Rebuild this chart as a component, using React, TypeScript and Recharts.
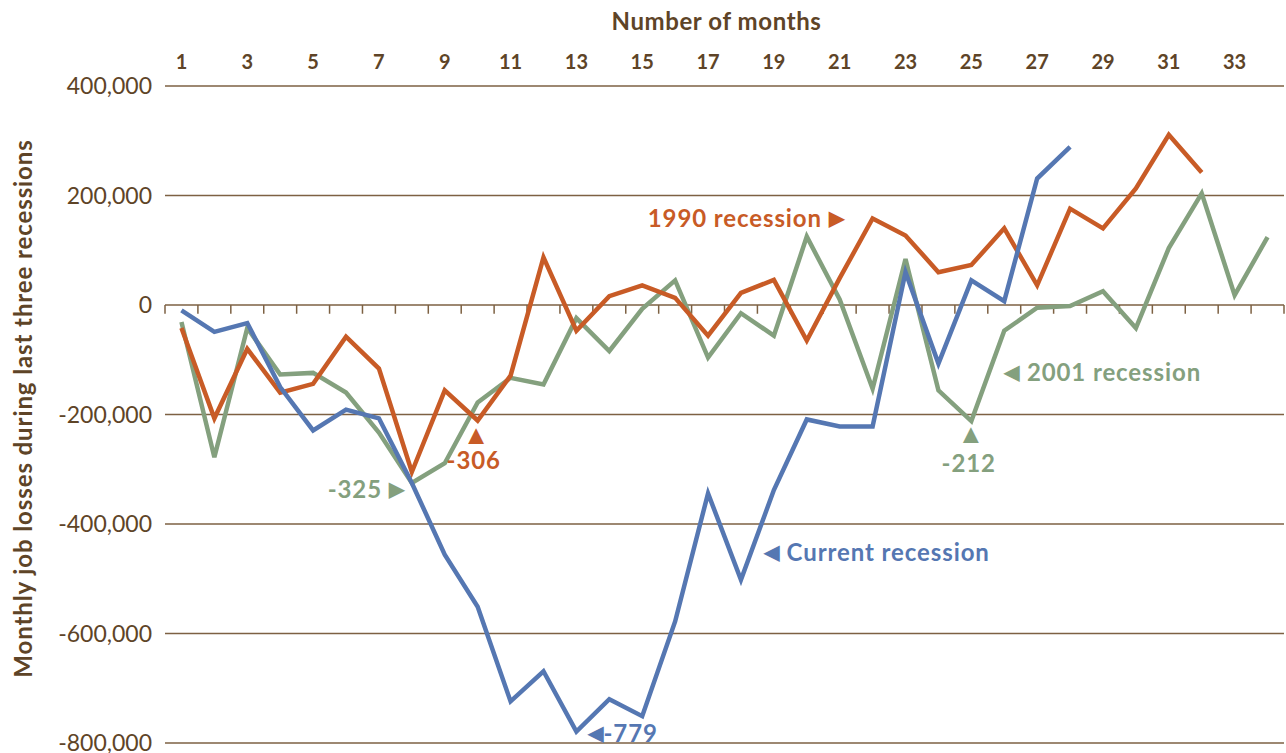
import React from "react"
import {
  LineChart, Line, XAxis, YAxis, CartesianGrid, ReferenceLine, ReferenceDot,
} from "recharts"

// month numbers on the x axis
const MONTHS = [
  1, 2, 3, 4, 5, 6, 7, 8, 9, 10, 11, 12, 13, 14, 15, 16, 17,
  18, 19, 20, 21, 22, 23, 24, 25, 26, 27, 28, 29, 30, 31, 32, 33, 34,
]
const MONTH_LABELS = [1, 3, 5, 7, 9, 11, 13, 15, 17, 19, 21, 23, 25, 27, 29, 31, 33]
// little tick marks on the zero line, between months
const ZERO_TICKS = [
  0.5, 1.5, 2.5, 3.5, 4.5, 5.5, 6.5, 7.5, 8.5, 9.5, 10.5, 11.5, 12.5, 13.5, 14.5, 15.5, 16.5, 17.5,
  18.5, 19.5, 20.5, 21.5, 22.5, 23.5, 24.5, 25.5, 26.5, 27.5, 28.5, 29.5, 30.5, 31.5, 32.5, 33.5, 34.5,
]
const Y_TICKS = [-800000, -600000, -400000, -200000, 0, 200000, 400000]

const CURRENT = [
  -10000, -49000, -33000, -150000, -229000, -191000, -207000, -325000, -456000, -551000,
  -724000, -669000, -779000, -720000, -751000, -578000, -344000, -502000, -338000, -209000,
  -222000, -222000, 60000, -107000, 45000, 7000, 231000, 289000,
]
const R1990 = [
  -42000, -207000, -80000, -160000, -144000, -58000, -116000, -305000, -156000, -211000,
  -129000, 87000, -47000, 16000, 36000, 13000, -56000, 22000, 46000, -65000,
  49000, 158000, 127000, 60000, 73000, 140000, 36000, 176000, 140000, 213000,
  311000, 242000,
]
const R2001 = [
  -31000, -278000, -42000, -127000, -124000, -160000, -233000, -325000, -289000, -178000,
  -133000, -145000, -24000, -84000, -7000, 45000, -96000, -15000, -56000, 125000,
  10000, -153000, 84000, -156000, -212000, -47000, -5000, -2000, 25000, -42000,
  104000, 204000, 18000, 124000,
]

const BROWN = "#5e4427"
const GRID = "#7d6143"
const BLUE = "#5577b2"
const ORANGE = "#c85b26"
const GREEN = "#84a07e"
const FONT = "Lato, 'Open Sans', sans-serif"

const data = MONTHS.map((m, i) => ({
  month: m,
  current: CURRENT[i],
  r1990: R1990[i],
  r2001: R2001[i],
}))

const fmt = (v: number) => v.toLocaleString("en-US")

// text notes placed in data coordinates; parts are [text, fontSize]
function note(parts: [string, number][], color: string, anchor: "start" | "middle" | "end") {
  return (p: any) => (
    <text
      x={p.cx}
      y={p.cy}
      textAnchor={anchor}
      dominantBaseline="central"
      fill={color}
      fontFamily={FONT}
      fontWeight={700}
      letterSpacing={0.9}
    >
      {parts.map(([t, s], i) => (
        <tspan key={i} fontSize={s}>{t}</tspan>
      ))}
    </text>
  )
}

export default function App() {
  return (
    <div style={{ position: "absolute", left: 0, top: 0, background: "#fff" }}>
      <LineChart width={1286} height={753} data={data} margin={{ top: 0, right: 2, bottom: 10, left: 0 }}>
        <CartesianGrid vertical={false} stroke={GRID} strokeWidth={1.5} />
        <XAxis
          dataKey="month"
          type="number"
          orientation="top"
          domain={[0.5, 34.5]}
          ticks={MONTH_LABELS}
          interval={0}
          height={86}
          axisLine={false}
          tickLine={false}
          tickSize={0}
          tickMargin={17}
          tick={{ fill: BROWN, fontSize: 20, fontWeight: 700, fontFamily: FONT }}
          label={{
            content: (p: any) => (
              <text
                x={p.viewBox.x + p.viewBox.width / 2 - 8}
                y={20}
                textAnchor="middle"
                dominantBaseline="central"
                fill={BROWN}
                fontFamily={FONT}
                fontWeight={700}
                fontSize={24}
                letterSpacing={0.6}
              >
                Number of months
              </text>
            ),
          }}
        />
        <YAxis
          type="number"
          domain={[-800000, 400000]}
          ticks={Y_TICKS}
          interval={0}
          width={165}
          axisLine={false}
          tickLine={false}
          tickSize={0}
          tickMargin={13}
          tickFormatter={fmt}
          tick={{ fill: BROWN, fontSize: 23, fontFamily: FONT }}
          label={{
            content: (p: any) => {
              const cy = p.viewBox.y + p.viewBox.height / 2 - 6
              return (
                <text
                  x={22}
                  y={cy}
                  textAnchor="middle"
                  dominantBaseline="central"
                  transform={`rotate(-90, 22, ${cy})`}
                  fill={BROWN}
                  fontFamily={FONT}
                  fontWeight={700}
                  fontSize={24}
                  letterSpacing={0.9}
                >
                  Monthly job losses during last three recessions
                </text>
              )
            },
          }}
        />
        {ZERO_TICKS.map((t) => (
          <ReferenceLine
            key={t}
            segment={[{ x: t, y: 0 }, { x: t, y: -16000 }]}
            stroke={GRID}
            strokeWidth={1.5}
          />
        ))}
        <Line type="linear" dataKey="r2001" stroke={GREEN} strokeWidth={4.5} dot={false} isAnimationActive={false} />
        <Line type="linear" dataKey="r1990" stroke={ORANGE} strokeWidth={4.5} dot={false} isAnimationActive={false} />
        <Line type="linear" dataKey="current" stroke={BLUE} strokeWidth={4.5} dot={false} isAnimationActive={false} />

        <ReferenceDot x={21.15} y={160000} r={0} shape={note([["1990 recession ", 24], ["\u25B6", 20]], ORANGE, "end")} />
        <ReferenceDot x={26.0} y={-120000} r={0} shape={note([["\u25C0", 20], [" 2001 recession", 24]], GREEN, "start")} />
        <ReferenceDot x={18.7} y={-449000} r={0} shape={note([["\u25C0", 20], [" Current recession", 24]], BLUE, "start")} />
        <ReferenceDot x={7.78} y={-335000} r={0} shape={note([["-325 ", 24], ["\u25B6", 20]], GREEN, "end")} />
        <ReferenceDot x={9.97} y={-234000} r={0} shape={note([["\u25B2", 27]], ORANGE, "middle")} />
        <ReferenceDot x={9.88} y={-282000} r={0} shape={note([["-306", 24]], ORANGE, "middle")} />
        <ReferenceDot x={25.0} y={-232000} r={0} shape={note([["\u25B2", 27]], GREEN, "middle")} />
        <ReferenceDot x={24.92} y={-287000} r={0} shape={note([["-212", 24]], GREEN, "middle")} />
        <ReferenceDot x={13.34} y={-780000} r={0} shape={note([["\u25C0", 20], ["-779", 24]], BLUE, "start")} />
      </LineChart>
    </div>
  )
}
